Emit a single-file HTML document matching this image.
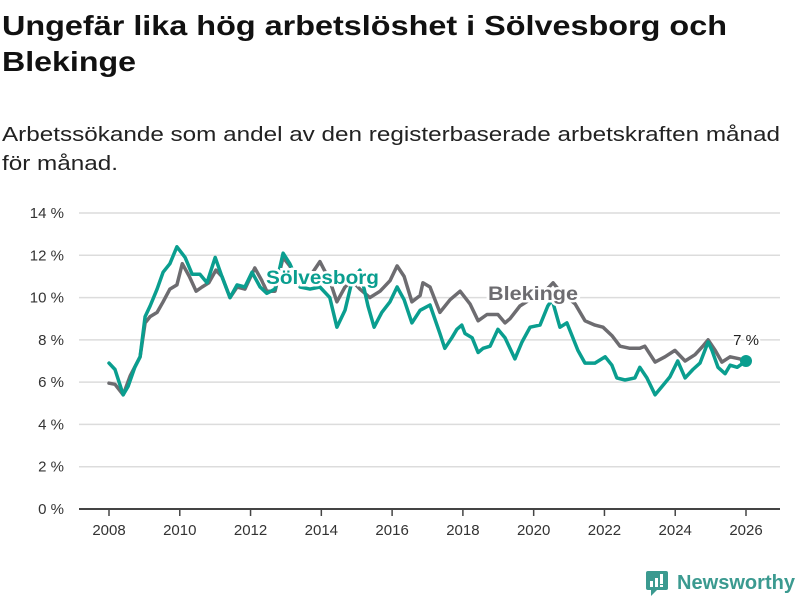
<!DOCTYPE html>
<html><head><meta charset="utf-8"><style>
html,body{margin:0;padding:0;background:#fff;}
svg{display:block;font-family:"Liberation Sans","DejaVu Sans",sans-serif;}
</style></head><body>
<svg id="chart" width="800" height="600" viewBox="0 0 800 600">
<text x="2" y="35" font-size="28" font-weight="bold" fill="#111" textLength="725" lengthAdjust="spacingAndGlyphs">Ungefär lika hög arbetslöshet i Sölvesborg och</text>
<text x="2" y="71" font-size="28" font-weight="bold" fill="#111" textLength="134" lengthAdjust="spacingAndGlyphs">Blekinge</text>
<text x="2" y="141" font-size="20" fill="#222" textLength="778" lengthAdjust="spacingAndGlyphs">Arbetssökande som andel av den registerbaserade arbetskraften månad</text>
<text x="2" y="170" font-size="20" fill="#222" textLength="116" lengthAdjust="spacingAndGlyphs">för månad.</text>
<g id="grid"></g><g id="xaxis"></g><g id="series"></g><g id="labels"></g>
<g>
<rect x="646" y="571" width="22" height="19" rx="2" fill="#3b9a90"/>
<path d="M651 590 L651 596 L657 590 Z" fill="#3b9a90"/>
<rect x="650" y="581" width="3" height="6" fill="#fff"/><rect x="655" y="578" width="3" height="9" fill="#fff"/><rect x="660" y="574" width="3" height="10" fill="#fff"/><rect x="660" y="585" width="3" height="2" fill="#fff"/>
<text x="677" y="589" font-size="20" font-weight="bold" fill="#3b9a90" textLength="118" lengthAdjust="spacingAndGlyphs">Newsworthy</text>
</g>
</svg>
<script>
const yTicks=[0,2,4,6,8,10,12,14];
const xTicks=[2008,2010,2012,2014,2016,2018,2020,2022,2024,2026];
const solYears=[2008.00,2008.17,2008.40,2008.54,2008.73,2008.88,2009.02,2009.16,2009.36,2009.53,2009.72,2009.92,2010.15,2010.35,2010.57,2010.77,2011.00,2011.19,2011.42,2011.62,2011.84,2012.04,2012.27,2012.46,2012.69,2012.92,2013.11,2013.40,2013.68,2013.96,2014.24,2014.44,2014.67,2014.87,2015.09,2015.32,2015.49,2015.71,2015.94,2016.14,2016.34,2016.56,2016.79,2017.07,2017.35,2017.49,2017.69,2017.83,2017.97,2018.06,2018.26,2018.43,2018.57,2018.77,2018.99,2019.19,2019.47,2019.67,2019.90,2020.18,2020.40,2020.52,2020.74,2020.94,2021.25,2021.45,2021.73,2022.02,2022.21,2022.35,2022.58,2022.86,2023.00,2023.20,2023.43,2023.63,2023.85,2024.07,2024.28,2024.50,2024.70,2024.93,2025.04,2025.21,2025.41,2025.55,2025.75,2026.00];
const solValues=[6.9,6.6,5.4,5.8,6.7,7.2,9.1,9.6,10.4,11.2,11.6,12.4,11.9,11.1,11.1,10.7,11.9,11.0,10.0,10.6,10.5,11.2,10.5,10.2,10.4,12.1,11.6,10.5,10.4,10.5,10.0,8.6,9.4,10.8,11.3,9.6,8.6,9.3,9.8,10.5,9.9,8.8,9.4,9.65,8.3,7.6,8.1,8.5,8.7,8.3,8.1,7.4,7.6,7.7,8.5,8.1,7.1,7.9,8.6,8.7,9.6,9.9,8.6,8.8,7.5,6.9,6.9,7.2,6.8,6.2,6.1,6.2,6.7,6.2,5.4,5.8,6.25,7.0,6.2,6.6,6.9,7.9,7.5,6.7,6.4,6.8,6.7,7.0];
const blkYears=[2008.00,2008.17,2008.40,2008.60,2008.88,2009.02,2009.16,2009.36,2009.53,2009.72,2009.92,2010.07,2010.27,2010.46,2010.63,2010.82,2011.02,2011.19,2011.42,2011.62,2011.84,2011.98,2012.12,2012.32,2012.46,2012.69,2012.92,2013.11,2013.40,2013.68,2013.96,2014.24,2014.44,2014.67,2014.87,2015.09,2015.37,2015.66,2015.94,2016.14,2016.34,2016.56,2016.79,2016.87,2017.07,2017.35,2017.64,2017.92,2018.20,2018.43,2018.68,2018.99,2019.19,2019.33,2019.61,2019.98,2020.38,2020.55,2020.74,2021.17,2021.45,2021.73,2021.96,2022.21,2022.44,2022.72,2023.00,2023.14,2023.43,2023.71,2023.99,2024.28,2024.56,2024.78,2024.93,2025.13,2025.32,2025.55,2025.83,2026.00];
const blkValues=[5.95,5.9,5.4,6.3,7.2,8.8,9.1,9.3,9.8,10.4,10.6,11.6,11.0,10.3,10.5,10.7,11.3,11.0,10.0,10.5,10.4,10.9,11.4,10.8,10.3,10.3,11.9,11.5,10.6,11.0,11.7,10.8,9.8,10.5,10.8,10.4,10.0,10.3,10.8,11.5,11.0,9.8,10.1,10.7,10.5,9.3,9.9,10.3,9.7,8.9,9.2,9.2,8.8,9.0,9.6,10.0,10.4,10.7,10.3,9.7,8.9,8.7,8.6,8.2,7.7,7.6,7.6,7.7,6.95,7.2,7.5,7.0,7.3,7.7,8.0,7.5,6.95,7.2,7.1,6.95];
const lastLabel="7 %";
const NS="http://www.w3.org/2000/svg";
const X=t=>109+(t-2008)*(637/18);
const Y=v=>509-v*(296/14);
function mk(tag,attrs,parent){const e=document.createElementNS(NS,tag);for(const k in attrs)e.setAttribute(k,attrs[k]);parent.appendChild(e);return e;}
const grid=document.getElementById('grid'),xa=document.getElementById('xaxis'),se=document.getElementById('series'),lb=document.getElementById('labels');
yTicks.forEach(v=>{
 const l=mk('line',{x1:79,x2:780,y1:Y(v),y2:Y(v),stroke:v===0?'#444':'#dcdcdc','stroke-width':v===0?2:1.5},grid);
 
 
 const t=mk('text',{x:64,y:Y(v)+5,'text-anchor':'end','font-size':15,fill:'#333'},grid);
 t.textContent=v+' %';
 
 
});
xTicks.forEach(y=>{
 const l=mk('line',{x1:X(y),x2:X(y),y1:509,y2:516,stroke:'#444','stroke-width':1.5},xa);
 
 
 const t=mk('text',{x:X(y),y:535,'text-anchor':'middle','font-size':15,fill:'#333'},xa);
 t.textContent=y;
 
 
});
function line(years,vals,color,name){
 const d=years.map((t,i)=>(i?'L':'M')+X(t).toFixed(1)+' '+Y(vals[i]).toFixed(1)).join(' ');
 const p=mk('path',{d:d,fill:'none',stroke:color,'stroke-width':3.5,'stroke-linejoin':'round','stroke-linecap':'round'},se);
 
 
}
line(blkYears,blkValues,'#6d6c70','blekinge-line');
line(solYears,solValues,'#0a9e8f','solvesborg-line');
const n=solYears.length-1;
const dot=mk('circle',{cx:X(solYears[n]),cy:Y(solValues[n]),r:6,fill:'#0a9e8f'},se);


const lv=mk('text',{x:X(solYears[n]),y:Y(solValues[n])-16,'text-anchor':'middle','font-size':15,fill:'#222',stroke:'#fff','stroke-width':4,'paint-order':'stroke'},lb);
lv.textContent=lastLabel;


const s=mk('text',{x:266,y:284,'font-size':19,'font-weight':'bold',fill:'#0a9e8f',stroke:'#fff','stroke-width':5,'paint-order':'stroke',textLength:113,lengthAdjust:'spacingAndGlyphs'},lb);
s.textContent='Sölvesborg';


const b=mk('text',{x:488,y:300,'font-size':19,'font-weight':'bold',fill:'#6d6c70',stroke:'#fff','stroke-width':5,'paint-order':'stroke',textLength:90,lengthAdjust:'spacingAndGlyphs'},lb);
b.textContent='Blekinge';


</script>
</body></html>
